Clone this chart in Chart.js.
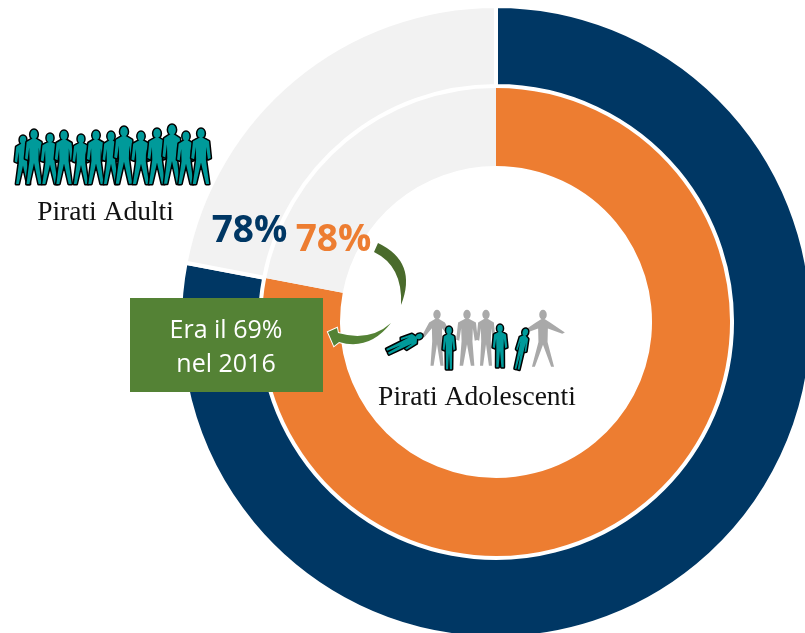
<!DOCTYPE html>
<html>
<head>
<meta charset="utf-8">
<style>
  html, body { margin: 0; padding: 0; background: #fff; overflow: hidden; width: 805px; height: 633px; }
  canvas { display: block; }
</style>
<script src="https://cdn.jsdelivr.net/npm/chart.js@4"></script>
</head>
<body>
<canvas id="pirati" width="992" height="644"></canvas>
<script>
const categories = ['Pirati', 'Non pirati'];
const adultValues = [78, 22];
const teenValues = [78, 22];
const adultLabel = 'Pirati Adulti';
const teenLabel = 'Pirati Adolescenti';
const adultShare = '78%';
const teenShare = '78%';
const noteLines = ['Era il 69%', 'nel 2016'];

const TEAL = '#009a9a';
const GREY = '#a9a9a9';

// one standing figure, x = middle, top/bottom = head to feet
function person(ctx, x, top, bottom, opt) {
    const h = bottom - top;
    const w = (opt.w || 0.3) * h;
    const spread = opt.spread || 0.5;
    const arm = opt.arm || 0;
    ctx.save();
    ctx.translate(x, top);
    if (opt.rot) ctx.rotate(opt.rot);
    ctx.beginPath();
    ctx.ellipse(0, h * 0.08, h * 0.065, h * 0.085, 0, 0, Math.PI * 2);
    ctx.moveTo(-w * 0.12, h * 0.16);
    ctx.lineTo(w * 0.12, h * 0.16);
    ctx.lineTo(w * 0.46, h * 0.22);
    ctx.lineTo(w * 0.56 + arm * h, h * 0.52 - arm * h * 0.6);
    ctx.lineTo(w * 0.4 + arm * h, h * 0.54 - arm * h * 0.6);
    ctx.lineTo(w * 0.3, h * 0.32);
    ctx.lineTo(w * 0.28, h * 0.55);
    ctx.lineTo(w * 0.3 * spread + w * 0.2, h * 0.98);
    ctx.lineTo(w * 0.3 * spread + w * 0.02, h * 0.98);
    ctx.lineTo(0, h * 0.6);
    ctx.lineTo(-w * 0.3 * spread - w * 0.02, h * 0.98);
    ctx.lineTo(-w * 0.3 * spread - w * 0.2, h * 0.98);
    ctx.lineTo(-w * 0.28, h * 0.55);
    ctx.lineTo(-w * 0.3, h * 0.32);
    ctx.lineTo(-w * 0.4 - arm * h, h * 0.54 - arm * h * 0.6);
    ctx.lineTo(-w * 0.56 - arm * h, h * 0.52 - arm * h * 0.6);
    ctx.lineTo(-w * 0.46, h * 0.22);
    ctx.closePath();
    if (opt.outline) {
        ctx.strokeStyle = '#000';
        ctx.lineWidth = opt.outline;
        ctx.lineJoin = 'round';
        ctx.stroke();
    }
    ctx.fillStyle = opt.color;
    ctx.fill();
    ctx.restore();
}

const drawExtras = {
    id: 'drawExtras',
    afterDraw(chart) {
        const ctx = chart.ctx;
        ctx.save();

        // crowd above the adult label
        const crowd = [
            [23, 136, 0.3], [34, 130, 0.29], [50, 134, 0.32], [64, 131, 0.3],
            [81, 135, 0.3], [96, 131, 0.3], [111, 132, 0.28], [124, 127, 0.3],
            [141, 132, 0.32], [157, 129, 0.3], [172, 125, 0.28], [186, 132, 0.3], [201, 129, 0.31]
        ];
        crowd.forEach(f => person(ctx, f[0], f[1], 185, { w: f[2], color: TEAL, outline: 3, spread: 0.9 }));

        // group above the teen label
        person(ctx, 437, 310, 367, { w: 0.3, color: GREY, spread: 0.6, arm: 0.1 });
        person(ctx, 467, 310, 367, { w: 0.34, color: GREY, spread: 0.6 });
        person(ctx, 486, 310, 367, { w: 0.3, color: GREY, spread: 0.5 });
        person(ctx, 543, 310, 368, { w: 0.28, color: GREY, spread: 1.6, arm: 0.22 });
        person(ctx, 449, 327, 370, { w: 0.26, color: TEAL, outline: 3, spread: 0.2 });
        person(ctx, 500, 325, 368, { w: 0.3, color: TEAL, outline: 3, spread: 0.3 });
        person(ctx, 526, 329, 371, { w: 0.22, color: TEAL, outline: 3, spread: 0.2, rot: 0.22 });
        person(ctx, 422, 335, 374, { w: 0.3, color: TEAL, outline: 3, spread: 0.2, rot: 1.12 });

        // curved arrow, upper piece
        ctx.fillStyle = '#4a6b2c';
        ctx.beginPath();
        ctx.moveTo(374, 252);
        ctx.lineTo(378, 243);
        ctx.quadraticCurveTo(418, 262, 401, 305);
        ctx.quadraticCurveTo(403, 266, 374, 252);
        ctx.closePath();
        ctx.fill();

        // green box with the note
        ctx.fillStyle = '#548235';
        ctx.fillRect(130, 298, 193, 94);

        // curved arrow, lower piece with head
        ctx.beginPath();
        ctx.moveTo(391, 323);
        ctx.quadraticCurveTo(370, 342, 338, 333);
        ctx.lineTo(337, 328);
        ctx.lineTo(328, 332);
        ctx.lineTo(334, 346);
        ctx.lineTo(339, 342);
        ctx.quadraticCurveTo(369, 351, 391, 323);
        ctx.closePath();
        ctx.strokeStyle = '#fff';
        ctx.lineWidth = 2;
        ctx.lineJoin = 'miter';
        ctx.stroke();
        ctx.fillStyle = '#548235';
        ctx.fill();

        // texts
        ctx.textBaseline = 'alphabetic';
        ctx.textAlign = 'center';
        ctx.fillStyle = '#111';
        ctx.font = '27.5px "Liberation Serif"';
        ctx.fillText(adultLabel, 105.5, 220);
        ctx.fillText(teenLabel, 477, 405);

        ctx.font = 'bold 37px "Open Sans"';
        ctx.fillStyle = '#003764';
        ctx.fillText(adultShare, 249.5, 242);
        ctx.fillStyle = '#ed7d31';
        ctx.fillText(teenShare, 333.5, 251);

        ctx.font = '25px "Open Sans"';
        ctx.fillStyle = '#fff';
        ctx.fillText(noteLines[0], 226, 338);
        ctx.fillText(noteLines[1], 226, 372);
        ctx.restore();
    }
};

new Chart(document.getElementById('pirati'), {
    type: 'doughnut',
    data: {
        labels: categories,
        datasets: [
            {
                label: adultLabel,
                data: adultValues,
                backgroundColor: ['#003764', '#f2f2f2'],
                borderColor: '#fff',
                borderWidth: 4,
                borderJoinStyle: 'miter'
            },
            {
                label: teenLabel,
                data: teenValues,
                backgroundColor: ['#ed7d31', '#f2f2f2'],
                borderWidth: 0
            }
        ]
    },
    options: {
        responsive: false,
        animation: false,
        radius: 316,
        cutout: 158,
        layout: { padding: 0 },
        plugins: {
            legend: { display: false },
            tooltip: { enabled: false }
        }
    },
    plugins: [drawExtras]
});
</script>
</body>
</html>
